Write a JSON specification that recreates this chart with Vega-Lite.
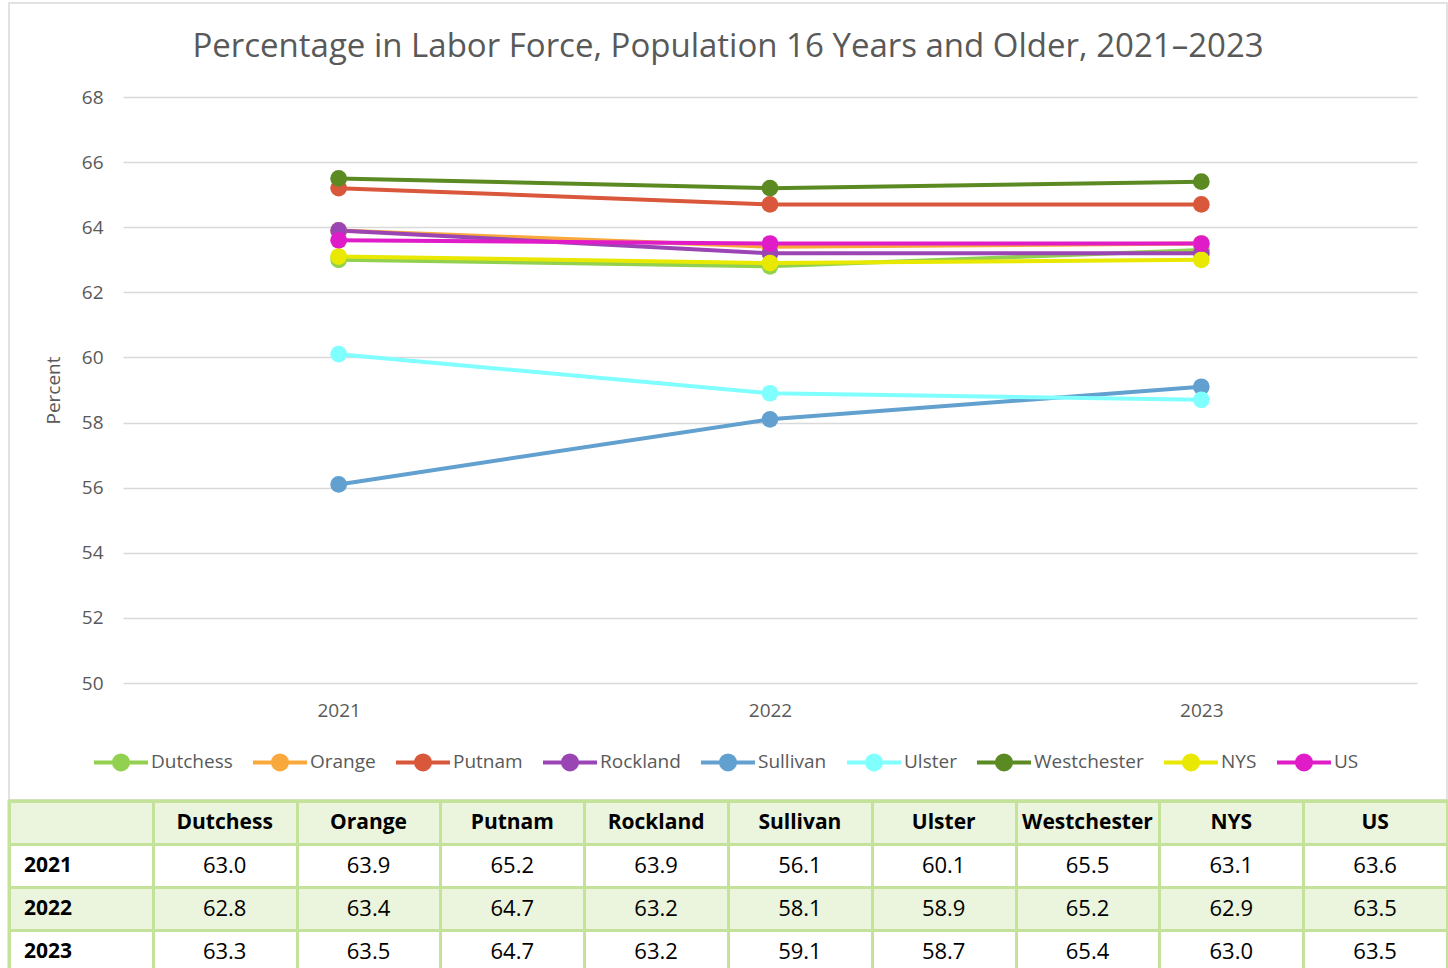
{
  "$schema": "https://vega.github.io/schema/vega-lite/v6.json",
  "padding": {"left": 7, "top": 2, "right": 0, "bottom": 0},
  "background": "#FFFFFF",
  "datasets": {
    "series": [
      {"county": "Dutchess", "year": "2021", "value": 63.0},
      {"county": "Dutchess", "year": "2022", "value": 62.8},
      {"county": "Dutchess", "year": "2023", "value": 63.3},
      {"county": "Orange", "year": "2021", "value": 63.9},
      {"county": "Orange", "year": "2022", "value": 63.4},
      {"county": "Orange", "year": "2023", "value": 63.5},
      {"county": "Putnam", "year": "2021", "value": 65.2},
      {"county": "Putnam", "year": "2022", "value": 64.7},
      {"county": "Putnam", "year": "2023", "value": 64.7},
      {"county": "Rockland", "year": "2021", "value": 63.9},
      {"county": "Rockland", "year": "2022", "value": 63.2},
      {"county": "Rockland", "year": "2023", "value": 63.2},
      {"county": "Sullivan", "year": "2021", "value": 56.1},
      {"county": "Sullivan", "year": "2022", "value": 58.1},
      {"county": "Sullivan", "year": "2023", "value": 59.1},
      {"county": "Ulster", "year": "2021", "value": 60.1},
      {"county": "Ulster", "year": "2022", "value": 58.9},
      {"county": "Ulster", "year": "2023", "value": 58.7},
      {"county": "Westchester", "year": "2021", "value": 65.5},
      {"county": "Westchester", "year": "2022", "value": 65.2},
      {"county": "Westchester", "year": "2023", "value": 65.4},
      {"county": "NYS", "year": "2021", "value": 63.1},
      {"county": "NYS", "year": "2022", "value": 62.9},
      {"county": "NYS", "year": "2023", "value": 63.0},
      {"county": "US", "year": "2021", "value": 63.6},
      {"county": "US", "year": "2022", "value": 63.5},
      {"county": "US", "year": "2023", "value": 63.5}
    ],
    "rows": [
      {"row": "hdr"},
      {"row": "2021"},
      {"row": "2022"},
      {"row": "2023"}
    ],
    "years": [
      {"year": "2021"},
      {"year": "2022"},
      {"year": "2023"}
    ],
    "counties": [
      {"county": "Dutchess"},
      {"county": "Orange"},
      {"county": "Putnam"},
      {"county": "Rockland"},
      {"county": "Sullivan"},
      {"county": "Ulster"},
      {"county": "Westchester"},
      {"county": "NYS"},
      {"county": "US"}
    ]
  },
  "spacing": -2,
  "resolve": {"scale": {"x": "independent", "y": "independent", "color": "independent", "fill": "independent"}},
  "vconcat": [
    {
      "width": 1438,
      "height": 797,
      "view": {"stroke": "#D9D9D9", "strokeWidth": 1.5},
      "title": {
        "text": "Percentage in Labor Force, Population 16 Years and Older, 2021–2023",
        "anchor": "middle",
        "frame": "group",
        "fontSize": 33,
        "font": "Open Sans",
        "fontWeight": "normal",
        "color": "#595959",
        "offset": -61
      },
      "data": {"name": "series"},
      "mark": {"type": "line", "strokeWidth": 4, "point": {"filled": true, "size": 280, "opacity": 1}},
      "encoding": {
        "x": {
          "field": "year",
          "type": "ordinal",
          "scale": {"type": "point", "padding": 0.5, "range": [114, 1408]},
          "axis": {
            "title": null,
            "labelAngle": 0,
            "domain": false,
            "ticks": false,
            "tickSize": 0,
            "offset": -117,
            "labelPadding": 18,
            "labelFontSize": 19,
            "labelFont": "Open Sans",
            "labelColor": "#595959",
            "grid": false
          }
        },
        "y": {
          "field": "value",
          "type": "quantitative",
          "scale": {"domain": [50, 68], "nice": false, "zero": false, "range": [680, 94]},
          "axis": {
            "title": "Percent",
            "titleFont": "Open Sans",
            "titleFontSize": 19,
            "titleFontWeight": "normal",
            "titleColor": "#595959",
            "titleX": -60,
            "offset": -114,
            "values": [50, 52, 54, 56, 58, 60, 62, 64, 66, 68],
            "domain": false,
            "ticks": false,
            "tickSize": 0,
            "labelPadding": 20,
            "labelFontSize": 19,
            "labelFont": "Open Sans",
            "labelColor": "#595959",
            "gridColor": "#D9D9D9",
            "gridWidth": 1.5
          }
        },
        "color": {
          "field": "county",
          "type": "nominal",
          "sort": ["Dutchess", "Orange", "Putnam", "Rockland", "Sullivan", "Ulster", "Westchester", "NYS", "US"],
          "scale": {
            "domain": ["Dutchess", "Orange", "Putnam", "Rockland", "Sullivan", "Ulster", "Westchester", "NYS", "US"],
            "range": ["#92D050", "#F9A83C", "#D9573A", "#9B45B5", "#62A0CF", "#80FFFF", "#5B8A23", "#E8E800", "#E01CC8"]
          },
          "legend": {
            "title": null,
            "orient": "none",
            "direction": "horizontal",
            "columns": 9,
            "legendX": 101,
            "legendY": 748,
            "padding": 0,
            "symbolType": "M-3,0L3,0M0.78,0A0.78,0.78 0 1,1 -0.78,0A0.78,0.78 0 1,1 0.78,0Z",
            "symbolSize": 324,
            "symbolStrokeWidth": 4,
            "symbolOpacity": 1,
            "labelOffset": 19,
            "columnPadding": 12,
            "labelFont": "Open Sans",
            "labelFontSize": 19,
            "labelColor": "#595959",
            "labelLimit": 300
          }
        }
      }
    },
    {
      "width": 1438,
      "height": 172,
      "view": {"stroke": "#C4E29A", "strokeWidth": 3},
      "layer": [
        {
          "data": {"name": "rows"},
          "mark": {"type": "rect"},
          "encoding": {
            "y": {
              "field": "row",
              "type": "nominal",
              "scale": {"domain": ["hdr", "2021", "2022", "2023"], "paddingInner": 0, "paddingOuter": 0},
              "axis": {"title": null, "labels": false, "ticks": false, "domain": false, "grid": true, "tickBand": "extent", "gridColor": "#C4E29A", "gridWidth": 3, "gridOpacity": 1, "zindex": 1}
            },
            "fill": {
              "field": "row",
              "type": "nominal",
              "scale": {"domain": ["hdr", "2021", "2022", "2023"], "range": ["#EBF4DD", "#FFFFFF", "#EBF4DD", "#FFFFFF"]},
              "legend": null
            }
          }
        },
        {
          "data": {"name": "counties"},
          "mark": {"type": "text", "font": "Open Sans", "fontSize": 21, "fontWeight": "bold", "color": "#000000", "baseline": "middle"},
          "encoding": {
            "x": {
              "field": "county",
              "type": "nominal",
              "scale": {"domain": ["Year", "Dutchess", "Orange", "Putnam", "Rockland", "Sullivan", "Ulster", "Westchester", "NYS", "US"], "paddingInner": 0, "paddingOuter": 0},
              "axis": {"title": null, "labels": false, "ticks": false, "domain": false, "grid": true, "tickBand": "extent", "gridColor": "#C4E29A", "gridWidth": 3, "gridOpacity": 1, "zindex": 1, "orient": "top"}
            },
            "y": {"datum": "hdr", "type": "nominal"},
            "text": {"field": "county"}
          }
        },
        {
          "data": {"name": "years"},
          "mark": {"type": "text", "font": "Open Sans", "fontSize": 21, "fontWeight": "bold", "color": "#000000", "baseline": "middle", "align": "left", "dx": -57},
          "encoding": {
            "x": {"datum": "Year", "type": "nominal"},
            "y": {"field": "year", "type": "nominal"},
            "text": {"field": "year"}
          }
        },
        {
          "data": {"name": "series"},
          "mark": {"type": "text", "font": "Open Sans", "fontSize": 22, "color": "#000000", "baseline": "middle"},
          "encoding": {
            "x": {"field": "county", "type": "nominal"},
            "y": {"field": "year", "type": "nominal"},
            "text": {"field": "value", "type": "quantitative", "format": ".1f"}
          }
        }
      ]
    }
  ]
}
